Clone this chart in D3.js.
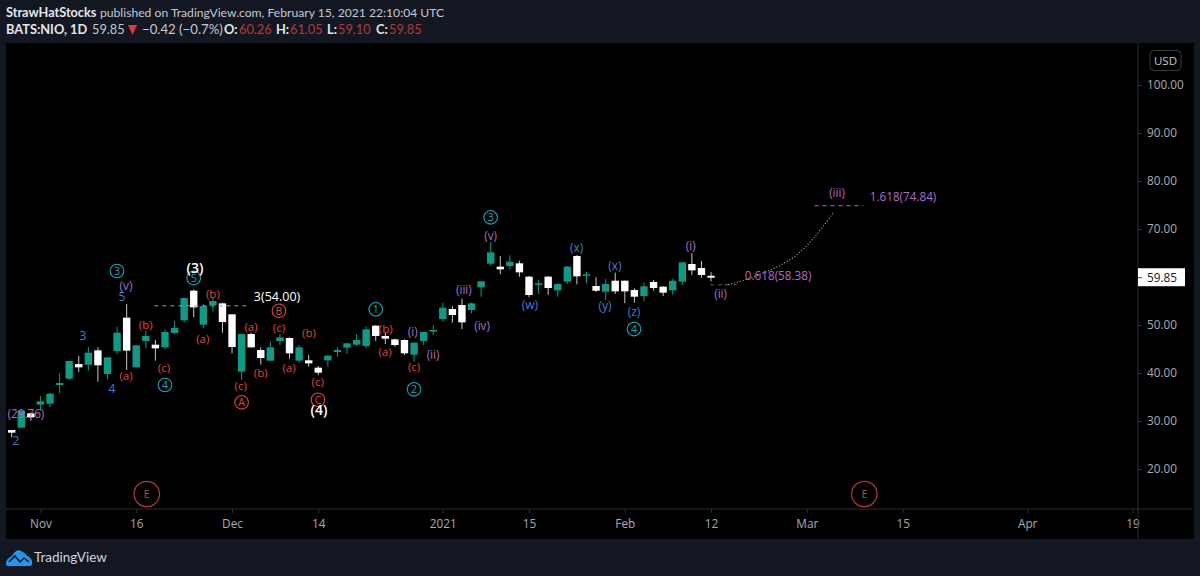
<!DOCTYPE html>
<html>
<head>
<meta charset="utf-8">
<style>
  html, body { margin: 0; padding: 0; background: #131722; }
  svg { display: block; font-family: "Open Sans", sans-serif; }
</style>
<script src="https://cdn.jsdelivr.net/npm/d3@7"></script>
</head>
<body>
<svg id="chart" width="1200" height="576"></svg>
<script>
// daily candles, oldest first
const opens = [28.12,28.61,31.60,33.40,33.61,37.50,38.82,41.87,41.73,44.72,39.79,44.58,51.53,41.18,46.66,45.90,45.35,48.33,50.97,57.15,50.07,54.10,54.51,52.22,40.28,48.12,44.79,42.57,46.66,47.29,42.57,42.64,41.11,42.64,44.37,45.28,45.90,45.62,49.86,47.71,47.01,46.87,43.82,46.66,48.61,51.25,53.33,54.16,53.12,57.85,62.78,62.15,62.29,62.85,60.07,58.33,60.07,57.22,59.03,64.37,60.28,58.12,56.94,59.23,59.23,57.29,56.04,58.96,57.98,57.22,59.03,62.71,61.87,60.26];
const highs = [28.12,32.15,31.73,35.21,35.90,39.93,42.50,43.54,45.48,45.35,43.26,49.65,54.37,45.90,48.82,46.87,49.10,50.83,55.76,57.43,54.37,55.76,54.65,52.22,48.12,48.40,45.35,46.53,48.12,47.43,45.83,43.75,41.46,43.75,45.35,46.18,48.12,49.65,50.00,48.40,47.15,47.01,46.32,48.54,49.99,54.65,53.96,55.48,54.65,59.10,67.36,64.37,64.51,63.40,60.21,59.37,60.21,58.68,62.29,64.58,61.11,59.93,59.58,60.90,59.23,57.64,58.82,59.37,58.12,59.58,63.12,64.93,63.33,61.05];
const lows = [26.60,28.61,30.07,32.15,32.91,35.76,38.54,40.21,40.48,38.19,38.68,43.96,40.62,41.18,45.14,42.57,44.93,48.12,50.48,51.60,49.30,52.78,48.40,44.10,38.54,45.28,41.73,42.57,45.83,42.98,42.15,41.32,39.58,41.32,43.40,43.96,45.62,45.14,46.66,46.04,45.48,43.75,42.36,45.83,47.91,50.69,50.48,49.16,52.43,55.90,62.36,60.62,61.60,60.07,55.76,56.46,56.32,55.90,58.54,58.47,58.68,56.87,55.21,56.46,54.51,54.65,54.93,57.15,56.04,56.32,58.33,60.41,59.86,59.10];
const closes = [27.57,32.15,30.76,34.10,35.69,37.91,42.50,41.18,44.23,41.60,43.26,48.40,44.65,45.76,47.71,45.14,48.54,49.37,55.62,53.68,53.96,55.00,50.62,45.41,48.12,45.35,43.12,45.35,47.43,44.10,45.35,42.01,40.07,43.61,44.79,46.18,46.87,49.10,47.71,47.15,45.83,44.10,46.32,48.54,48.96,53.61,52.08,50.55,54.51,59.10,65.14,61.60,63.19,60.97,56.25,58.68,57.71,58.54,62.15,60.14,60.55,57.15,58.54,57.01,57.01,55.90,58.05,57.71,56.73,59.23,63.05,61.39,60.41,59.85];

const priceTicks = [20,30,40,50,60,70,80,90,100];
const lastPrice = 59.85;

const timeTickBars = [3,13,23,32,45,54,64,73,83,93,106,117];
const timeTickLabels = ["Nov","16","Dec","14","2021","15","Feb","12","Mar","15","Apr","19"];

// wave counts: text, bar position, price position
const redTexts = ["(a)","(b)","(c)","(a)","(b)","(c)","(a)","(b)","(c)","(a)","(b)","(c)","(a)","(b)","(c)"];
const redBars = [11.93,13.99,15.9,19.94,21,23.9,24.98,26,27.9,28.95,31.03,31.94,38.97,39.04,42];
const redPrices = [39.16,49.85,40.89,46.87,56.3,37.14,49.43,39.85,49.22,40.89,48.18,37.91,44.1,49.01,40.97];

const blueTexts = ["2","3","4","5","(w)","(x)","(x)","(y)","(z)"];
const blueBars = [0.45,7.44,10.47,11.5,54.1,58.98,62.97,61.93,64.96];
const bluePrices = [25.6,47.5,36.45,55.6,53.95,65.83,62.14,53.8,52.5];

const purpleTexts = ["(29.76)","(v)","(iii)","(iv)","(i)","(ii)","(v)","(i)","(ii)","(iii)","1.618(74.84)","0.618(58.38)"];
const purpleBars = [1.49,11.93,47.2,49.1,41.86,43.98,50,70.88,74,86.15,93.04,80];
const purplePrices = [31.24,57.9,57.14,49.64,48.3,43.53,68.33,66.3,56.24,77.28,76.45,60];

const whiteTexts = ["3(54.00)"];
const whiteBars = [27.7];
const whitePrices = [55.6];

const degreeTexts = ["(3)","(4)"];
const degreeBars = [19.13,32.08];
const degreePrices = [61.66,32.08];

const circleTexts = ["3","5","4","1","2","3","4"];
const circleBars = [10.99,19,16,38,42,50,64.96];
const circlePrices = [61.25,59.8,37.5,53.26,36.6,72.43,49.16];

const redCircleTexts = ["A","B","C"];
const redCircleBars = [24,27.9,31.97];
const redCirclePrices = [33.89,52.97,34.43];

const earningsBars = [14.1,89];

// dotted projection from wave (ii) up to wave (iii)
const pathBars = [74.5,75.5,79.2,81.8,83.85,85.76];
const pathPrices = [58.38,58.75,61.46,64.38,68.4,73.4];

const W = 1200, H = 576;
const chartL = 6, chartT = 43, chartR = 1194, chartB = 539;
const axisX = 1138, axisY = 509;

const up = "#0d9b86", down = "#ffffff";
const red = "#e0443e", blue = "#3d7fd0", purple = "#b06cc6", cyan = "#18a9ba";
const lineCol = "#2a2e39", tickCol = "#a8abb3";

const svg = d3.select("#chart");

const x = d3.scaleLinear().domain([0, 120]).range([11.7, 1161.3]);
const y = d3.scaleLinear().domain([20, 100]).range([469, 85]);

svg.append("rect").attr("width", W).attr("height", H).attr("fill", "#131722");
svg.append("rect")
  .attr("x", chartL).attr("y", chartT)
  .attr("width", chartR - chartL).attr("height", chartB - chartT)
  .attr("fill", "#000");

// header
function headerText(str, px, py, fill, weight, size) {
  svg.append("text").attr("x", px).attr("y", py)
    .attr("fill", fill).attr("font-size", size).attr("font-family", "Lato")
    .attr("font-weight", weight).text(str);
}
headerText("StrawHatStocks", 6, 17, "#e4e6eb", 700, 12.7);
headerText("published on TradingView.com, February 15, 2021 22:10:04 UTC", 100, 17, "#c6c9d1", 400, 12.15);
headerText("BATS:NIO, 1D", 6, 34, "#e4e6eb", 700, 12.8);
headerText("59.85", 92, 34, "#c6c9d1", 400, 12.8);
headerText("\u22120.42 (\u22120.7%)", 142, 34, "#c6c9d1", 400, 13.2);
const ohlcLabels = ["O:","H:","L:","C:"];
const ohlcVals = ["60.26","61.05","59.10","59.85"];
const ohlcLabelX = [224,276,327,376], ohlcValX = [239,290,338,389];
ohlcLabels.forEach((l, i) => {
  headerText(l, ohlcLabelX[i], 34, "#e4e6eb", 700, 12.8);
  headerText(ohlcVals[i], ohlcValX[i], 34, "#b23a3f", 400, 12.8);
});
svg.append("path").attr("d", "M128,25H137L132.5,35Z").attr("fill", "#e0393e");

// axes
const yAxis = d3.axisRight(y).tickValues(priceTicks).tickSize(4).tickPadding(5)
  .tickFormat(d3.format(".2f"));
const yG = svg.append("g").attr("transform", `translate(${axisX},0)`).call(yAxis);
yG.select(".domain").remove();
yG.selectAll(".tick line").attr("stroke", lineCol);
yG.selectAll(".tick text").attr("fill", tickCol).attr("font-size", 11.8).attr("font-family", "Open Sans");

const xAxis = d3.axisBottom(x).tickValues(timeTickBars).tickSize(4).tickPadding(7)
  .tickFormat((d, i) => timeTickLabels[i]);
const xG = svg.append("g").attr("transform", `translate(0,${axisY})`).call(xAxis);
xG.select(".domain").remove();
xG.selectAll(".tick line").attr("stroke", lineCol);
xG.selectAll(".tick text").attr("fill", tickCol).attr("font-size", 11.8).attr("font-family", "Open Sans");

svg.append("line").attr("x1", chartL).attr("x2", 1192).attr("y1", axisY).attr("y2", axisY).attr("stroke", lineCol);
svg.append("line").attr("x1", axisX).attr("x2", axisX).attr("y1", chartT).attr("y2", chartB).attr("stroke", lineCol);

// currency box
svg.append("rect").attr("x", 1150).attr("y", 50.5).attr("width", 31).attr("height", 20).attr("rx", 4)
  .attr("fill", "none").attr("stroke", "#363a45");
svg.append("text").attr("x", 1165.5).attr("y", 64.5).attr("text-anchor", "middle")
  .attr("fill", "#c6c9d1").attr("font-size", 11.5).text("USD");

// last price tag
svg.append("rect").attr("x", axisX).attr("y", y(lastPrice) - 9.5).attr("width", 47).attr("height", 18).attr("fill", "#fff");
svg.append("line").attr("x1", axisX).attr("x2", axisX + 4).attr("y1", y(lastPrice)).attr("y2", y(lastPrice)).attr("stroke", "#555");
svg.append("text").attr("x", axisX + 9).attr("y", y(lastPrice) + 4)
  .attr("fill", "#131722").attr("font-size", 11.8).text(d3.format(".2f")(lastPrice));

// candles
const bars = svg.append("g").selectAll("g").data(opens).join("g");
const candleColor = i => closes[i] >= opens[i] ? up : down;
bars.append("line")
  .attr("x1", (d, i) => x(i)).attr("x2", (d, i) => x(i))
  .attr("y1", (d, i) => y(highs[i])).attr("y2", (d, i) => y(lows[i]))
  .attr("stroke", (d, i) => closes[i] >= opens[i] ? up : "#c8c8c8");
const bodyW = 7.4;
bars.append("rect")
  .attr("x", (d, i) => x(i) - bodyW / 2).attr("width", bodyW)
  .attr("y", (d, i) => y(Math.max(opens[i], closes[i])))
  .attr("height", (d, i) => Math.max(1.5, Math.abs(y(opens[i]) - y(closes[i]))))
  .attr("fill", (d, i) => candleColor(i));

// dashed targets
function dashed(b0, b1, price, stroke, opacity) {
  svg.append("line")
    .attr("x1", x(b0)).attr("x2", x(b1)).attr("y1", y(price)).attr("y2", y(price))
    .attr("stroke", stroke).attr("stroke-opacity", opacity).attr("stroke-dasharray", "4 4");
}
dashed(14.9, 24.6, 54, "#9a9a9a", 1);
dashed(83.8, 88.9, 74.84, "#9c7cab", 1);
dashed(72.9, 75.7, 58.38, "#9c7cab", 0.6);

const pathLine = d3.line().x(d => x(d[0])).y(d => y(d[1])).curve(d3.curveCatmullRom);
svg.append("path")
  .datum(pathBars.map((b, i) => [b, pathPrices[i]]))
  .attr("d", pathLine)
  .attr("fill", "none").attr("stroke", "#b5b5b5").attr("stroke-width", 1.1).attr("stroke-dasharray", "1 2");

// wave labels
function labels(texts, barsAt, prices, fill, size, weight) {
  svg.append("g").selectAll("text").data(texts).join("text")
    .attr("x", (d, i) => x(barsAt[i])).attr("y", (d, i) => y(prices[i]))
    .attr("text-anchor", "middle").attr("dominant-baseline", "middle")
    .attr("fill", fill).attr("font-size", size).attr("font-weight", weight || 400).text(d => d);
}
function circled(texts, barsAt, prices, color) {
  const g = svg.append("g").selectAll("g").data(texts).join("g")
    .attr("transform", (d, i) => `translate(${x(barsAt[i])},${y(prices[i])})`);
  g.append("circle").attr("r", 6.8).attr("fill", "none").attr("stroke", color).attr("stroke-width", 1.1);
  g.append("text").attr("text-anchor", "middle").attr("dominant-baseline", "central")
    .attr("fill", color).attr("font-size", 10.5).text(d => d);
}
circled(circleTexts, circleBars, circlePrices, cyan);
circled(redCircleTexts, redCircleBars, redCirclePrices, red);
labels(redTexts, redBars, redPrices, red, 11.5);
labels(blueTexts, blueBars, bluePrices, blue, 12);
labels(purpleTexts, purpleBars, purplePrices, purple, 11.7);
labels(whiteTexts, whiteBars, whitePrices, "#ffffff", 12.5);
labels(degreeTexts, degreeBars, degreePrices, "#ffffff", 14, 600);

// earnings markers
const ev = svg.append("g").selectAll("g").data(earningsBars).join("g")
  .attr("transform", d => `translate(${x(d)},494)`);
ev.append("circle").attr("r", 12.7).attr("fill", "#000").attr("stroke", "#b5393c").attr("stroke-width", 1.2);
ev.append("text").attr("text-anchor", "middle").attr("dominant-baseline", "central")
  .attr("fill", "#c8484a").attr("font-size", 10.5).text("E");

// logo
svg.append("path")
  .attr("d", "M6,564 C6,559 10,557 12,556 C14,552 18,549 21,551 C24,552 26,554 27,556 C30,557 33,560 32,564 C32,565 31,566 30,566 L8,566 C7,566 6,565 6,564Z")
  .attr("fill", "#2196f3");
svg.append("path")
  .attr("d", "M9,562 L15,556 L20,562 L24,558 L29,562")
  .attr("fill", "none").attr("stroke", "#131722").attr("stroke-width", 1.6);
svg.append("text").attr("x", 34).attr("y", 562).attr("fill", "#d1d4dc").attr("font-size", 13.5).attr("font-family", "Lato").text("TradingView");
</script>
</body>
</html>
